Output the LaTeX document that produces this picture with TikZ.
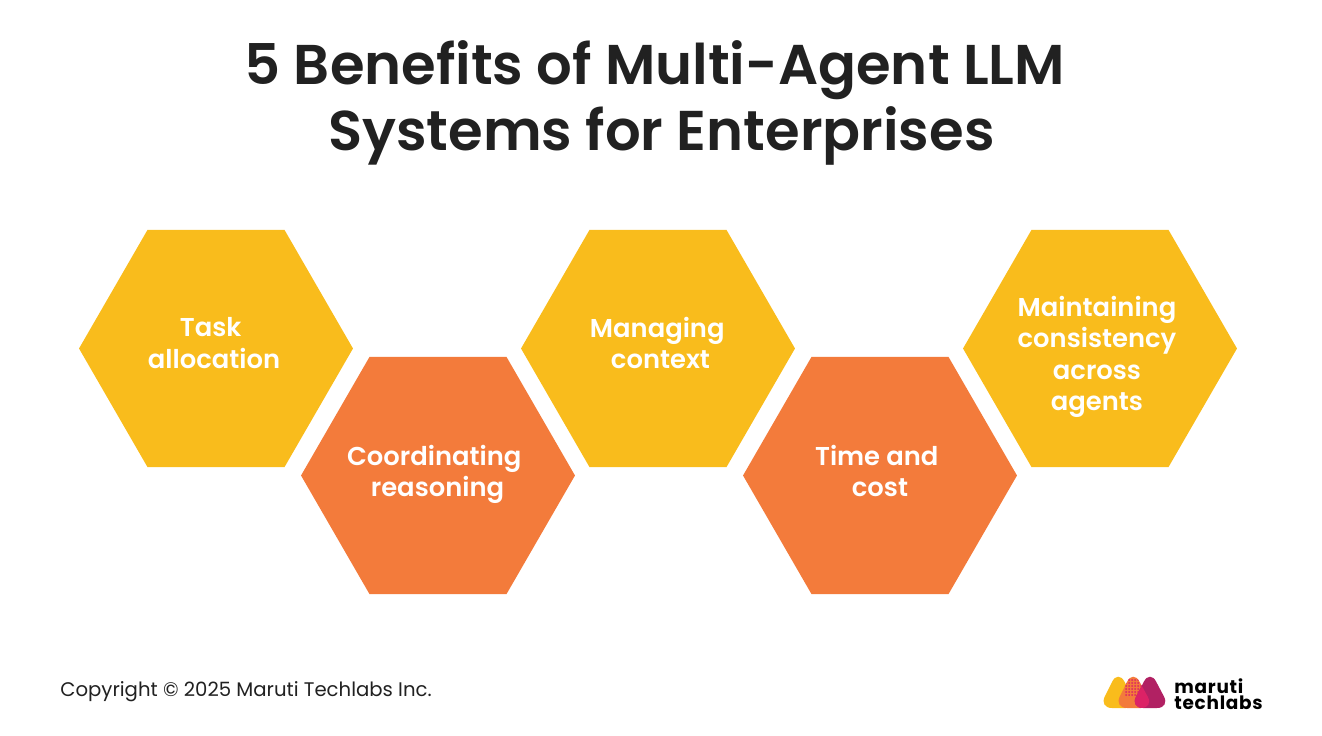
\documentclass[tikz,border=0pt]{standalone}
\usepackage{fontspec}
\setmainfont{Poppins}
\newfontfamily\semibold{Poppins SemiBold}
\newfontfamily\logofont[LetterSpace=4]{Poppins}
\usetikzlibrary{shapes.geometric}
\definecolor{hexyellow}{HTML}{F9BC1C}
\definecolor{hexorange}{HTML}{F37B3B}
\definecolor{titlegray}{HTML}{212121}
\definecolor{logopink}{HTML}{DC2266}
\definecolor{logoplum}{HTML}{B12163}
\newcommand{\trail}{\hspace*{0.13cm}}
\begin{document}
\begin{tikzpicture}[x=0.02cm,y=-0.02cm,
        hexa/.style = {regular polygon,
            regular polygon sides=6,
            minimum size = 5.48cm,
            inner sep = 0pt},
        gold/.style = {hexa, fill=hexyellow},
        tangerine/.style = {hexa, fill=hexorange},
        hexlabel/.style = {inner sep=0pt,
            font=\fontsize{14.7}{17.8}\semibold,
            text=white,
            align=center}]

        \useasboundingbox (0,0) rectangle (1322,736);

        % Title
        \node[font=\fontsize{31.9}{37.6}\semibold, text=titlegray, align=center] (title) at (661.5,103) {5 Benefits of Multi-Agent LLM\hspace*{0.27cm}\\Systems for Enterprises};

        % Hexagons
        \node[gold] (task) at (216,348.5) {};
        \node[tangerine] (reasoning) at (438,475.5) {};
        \node[gold] (context) at (658,348.5) {};
        \node[tangerine] (cost) at (880,475.5) {};
        \node[gold] (agents) at (1100,348.5) {};

        % Hexagon labels
        \node[hexlabel] (tasklabel) at (214,343) {Task\trail\\allocation};
        \node[hexlabel] (reasoninglabel) at (437.5,474.5) {Coordinating\trail\\reasoning};
        \node[hexlabel] (contextlabel) at (660.5,343) {Managing\trail\\context};
        \node[hexlabel] (costlabel) at (880,471) {Time and\trail\\cost};
        \node[hexlabel] (agentslabel) at (1097,357) {Maintaining\\consistency\\across\\agents};

        % Footer
        \node[anchor=west, inner sep=0pt, font=\fontsize{11.2}{13}\selectfont, text=titlegray] (copyright) at (60,692) {Copyright © 2025 Maruti Techlabs Inc.};

        % Logo
        \begin{scope}[rounded corners=0.26cm]
            \fill[hexyellow] (1118,670) -- (1099,708) -- (1139,708) -- cycle;
            \fill[hexorange] (1133,670) -- (1114,708) -- (1154,708) -- cycle;
            \fill[logoplum] (1150,670) -- (1130,708) -- (1170,708) -- cycle;
            \begin{scope}
                \clip (1133,670) -- (1114,708) -- (1154,708) -- cycle;
                \fill[logopink] (1150,670) -- (1130,708) -- (1170,708) -- cycle;
                \foreach \dx in {1126,1129,...,1144}
                    \foreach \dy in {680,683,...,695}
                        \fill[logopink] (\dx,\dy) circle (0.02cm);
            \end{scope}
        \end{scope}
        \node[anchor=west, inner sep=0pt, font=\fontsize{10.5}{9.2}\logofont\bfseries, text=black, align=left] (logotext) at (1174,694) {maruti\\techlabs};

    \end{tikzpicture}
\end{document}
